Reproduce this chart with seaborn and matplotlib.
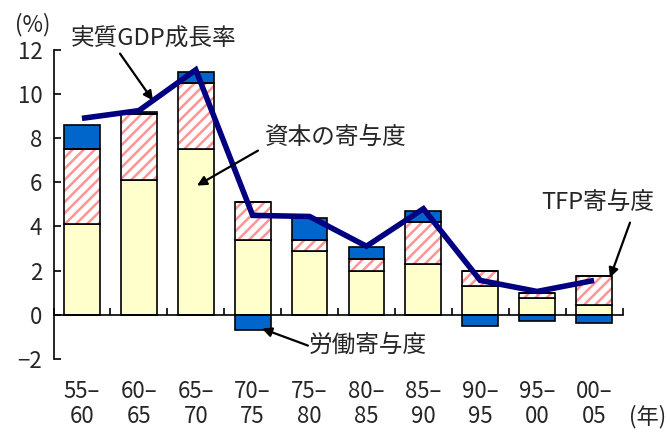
import numpy as np
import pandas as pd
import matplotlib
matplotlib.use("Agg")
import matplotlib.pyplot as plt
import seaborn as sns

# ---- data ----
periods = ["55–\n60", "60–\n65", "65–\n70", "70–\n75", "75–\n80",
           "80–\n85", "85–\n90", "90–\n95", "95–\n00", "00–\n05"]
capital = [4.1, 6.1, 7.5, 3.4, 2.9, 2.0, 2.3, 1.3, 0.75, 0.45]
tfp = [3.4, 3.0, 3.0, 1.7, 0.5, 0.5, 1.9, 0.7, 0.25, 1.3]
labor = [1.1, 0.1, 0.5, -0.7, 1.0, 0.55, 0.5, -0.5, -0.3, -0.4]
gdp = [8.9, 9.25, 11.1, 4.5, 4.45, 3.1, 4.8, 1.55, 1.05, 1.55]
y_ticks = [-2, 0, 2, 4, 6, 8, 10, 12]

sns.set_theme(style="white")
plt.rcParams["font.family"] = ["Noto Sans CJK JP", "DejaVu Sans"]
plt.rcParams["hatch.linewidth"] = 1.8
plt.rcParams["axes.unicode_minus"] = True

df = pd.DataFrame({"period": periods, "capital": capital, "tfp": tfp, "labor": labor, "gdp": gdp})
df["cap_tfp"] = df["capital"] + df["tfp"]
df["labor_pos"] = df["labor"].clip(lower=0)
df["labor_neg"] = df["labor"].clip(upper=0)

fig = plt.figure(figsize=(6.7, 4.32), dpi=100)
ax = fig.add_axes([53.5 / 670, 1 - 358.7 / 432, 569 / 670, (358.7 - 50) / 432])

W = 0.63
YELLOW = "#FFFFCC"
PINK = "#FF9494"
BLUE = "#0066CC"
NAVY = "#000080"
EW = 1.2

common = dict(data=df, x="period", ax=ax, width=W, errorbar=None, saturation=1)

# capital (yellow)
sns.barplot(y="capital", color=YELLOW, facecolor=YELLOW, edgecolor="black",
            linewidth=EW, zorder=2, **common)
# TFP hatched: stripes first, then outline
sns.barplot(y="tfp", bottom=df["capital"].values, color="white", facecolor="white",
            edgecolor=PINK, hatch="///", linewidth=0, zorder=2, **common)
sns.barplot(y="tfp", bottom=df["capital"].values, color="white", facecolor="none",
            edgecolor="black", linewidth=EW, zorder=3, **common)
# labor (blue), positive on top, negative below zero
sns.barplot(y="labor_pos", bottom=df["cap_tfp"].values, color=BLUE, facecolor=BLUE,
            edgecolor="black", linewidth=EW, zorder=2, **common)
sns.barplot(y="labor_neg", color=BLUE, facecolor=BLUE,
            edgecolor="black", linewidth=EW, zorder=2, **common)

# GDP growth line
sns.lineplot(x=np.arange(len(periods)), y=df["gdp"].values, ax=ax, color=NAVY,
             linewidth=4.0, zorder=5, solid_joinstyle="miter", solid_capstyle="butt")

ax.set_xlim(-0.5, len(periods) - 0.5)
ax.set_ylim(-2, 12)
ax.set_yticks(y_ticks)
ax.set_yticklabels([str(v).replace("-", "−") for v in y_ticks])
ax.set_xlabel("")
ax.set_ylabel("")

for s in ["top", "right"]:
    ax.spines[s].set_visible(False)
ax.spines["bottom"].set_position(("data", 0))
for s in ["left", "bottom"]:
    ax.spines[s].set_color("black")
    ax.spines[s].set_linewidth(1.2)
    ax.spines[s].set_zorder(4)

ax.tick_params(axis="y", direction="in", length=5, width=1.2, color="black",
               labelsize=16, pad=8, left=True)
ax.set_xticks(np.arange(len(periods)))
ax.set_xticklabels(periods, fontsize=16, linespacing=1.12)
ax.tick_params(axis="x", which="major", length=0, pad=47)
ax.set_xticks(np.arange(len(periods) + 1) - 0.5, minor=True)
ax.tick_params(axis="x", which="minor", direction="in", length=5, width=1.2,
               color="black", bottom=True)

# pixel helper for annotation placement
def px(x, y):
    return ((x - 53.5) / 56.9 - 0.5, (314 - y) / 22.05)

arrow = dict(arrowstyle="-|>", color="black", lw=1.6, mutation_scale=14, shrinkA=0, shrinkB=0)
fs = 17
ax.text(*px(154, 39), "実質GDP成長率", fontsize=fs, ha="center", va="center", clip_on=False)
ax.annotate("", xy=px(153, 100), xytext=px(120, 53), arrowprops=arrow, annotation_clip=False)
ax.text(*px(336, 137), "資本の寄与度", fontsize=fs, ha="center", va="center")
ax.annotate("", xy=px(197, 185), xytext=px(258, 150), arrowprops=arrow, zorder=6)
ax.text(*px(598, 202), "TFP寄与度", fontsize=fs, ha="center", va="center")
ax.annotate("", xy=px(610, 277), xytext=px(630, 222), arrowprops=arrow, zorder=6)
ax.text(*px(368, 345), "労働寄与度", fontsize=fs, ha="center", va="center", clip_on=False)
ax.annotate("", xy=px(262, 328), xytext=px(308, 345), arrowprops=arrow, zorder=6,
            annotation_clip=False)

fig.text(33 / 670, 1 - 25 / 432, "(%)", fontsize=16, ha="center", va="center")
fig.text(648 / 670, 1 - 417 / 432, "(年)", fontsize=16, ha="center", va="center")

fig.savefig("out.png", dpi=100)
